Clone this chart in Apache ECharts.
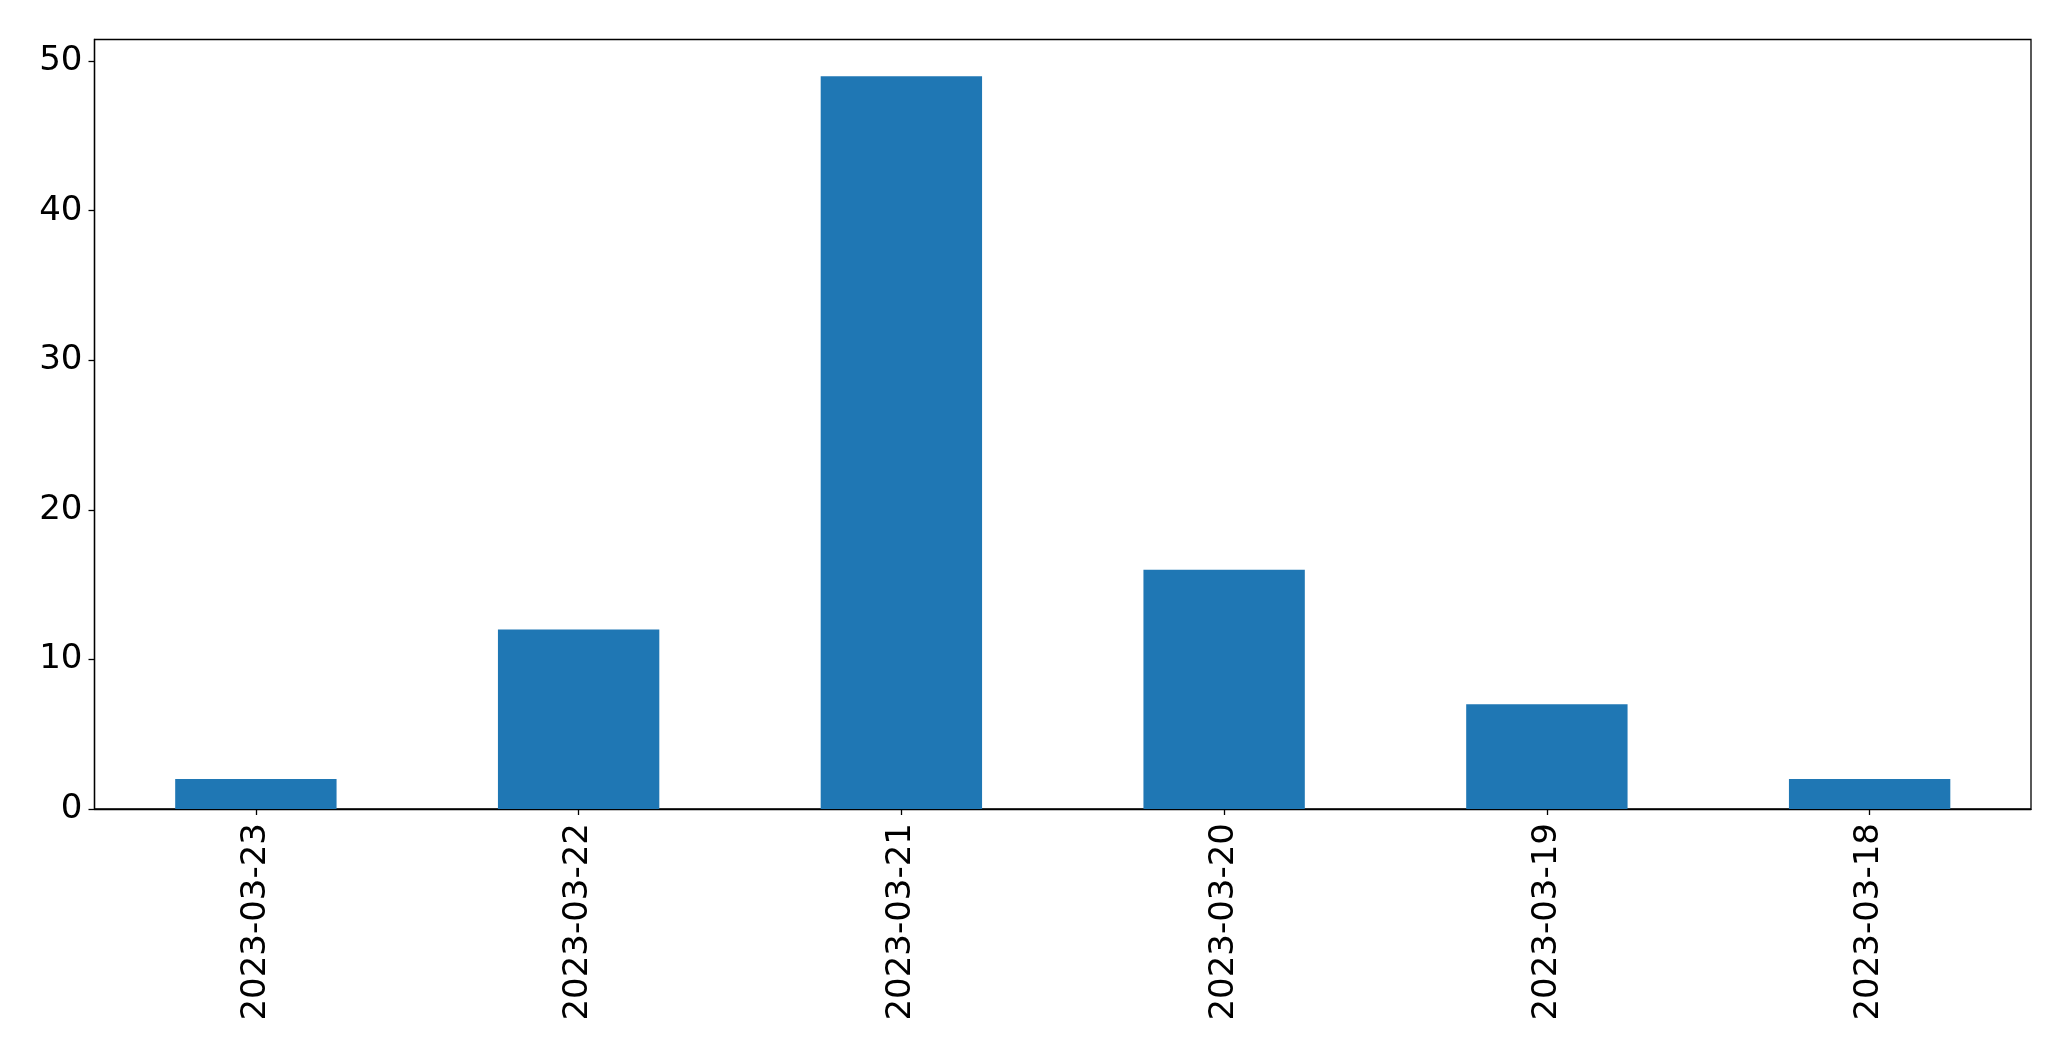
<!DOCTYPE html>
<html><head><meta charset="utf-8">
<script src="https://cdn.jsdelivr.net/npm/echarts@6/dist/echarts.min.js"></script>
<style>html,body{margin:0;padding:0;background:#fff}#c{width:2071px;height:1061px}</style>
</head><body><div id="c"></div>
<script>
const categories = ["2023-03-23","2023-03-22","2023-03-21","2023-03-20","2023-03-19","2023-03-18"];
const values = [2, 12, 49, 16, 7, 2];
const yMax = 51.45;

const chart = echarts.init(document.getElementById('c'), null, {renderer:'canvas'});
const font = 'DejaVu Sans';
chart.setOption({
  animation:false,
  backgroundColor:'#fff',
  grid:{left:94.5, right:40, top:39.5, bottom:252, show:true, borderColor:'#000', borderWidth:1.3, backgroundColor:'transparent'},
  xAxis:{
    type:'category', data:categories,
    axisLine:{show:true, lineStyle:{color:'#000', width:1.3}},
    axisTick:{show:true, alignWithLabel:true, length:6, lineStyle:{color:'#000', width:1.3}},
    axisLabel:{rotate:90, color:'#000', fontFamily:font, fontSize:34, margin:14}
  },
  yAxis:{
    type:'value', min:0, max:yMax, interval:10,
    splitLine:{show:false},
    axisLine:{show:true, lineStyle:{color:'#000', width:1.3}},
    axisTick:{show:true, length:6, lineStyle:{color:'#000', width:1.3}},
    axisLabel:{color:'#000', fontFamily:font, fontSize:34, margin:12, showMaxLabel:false}
  },
  series:[{type:'bar', data:values, barWidth:'50%', itemStyle:{color:'#1f77b4'}}]
});
</script></body></html>
